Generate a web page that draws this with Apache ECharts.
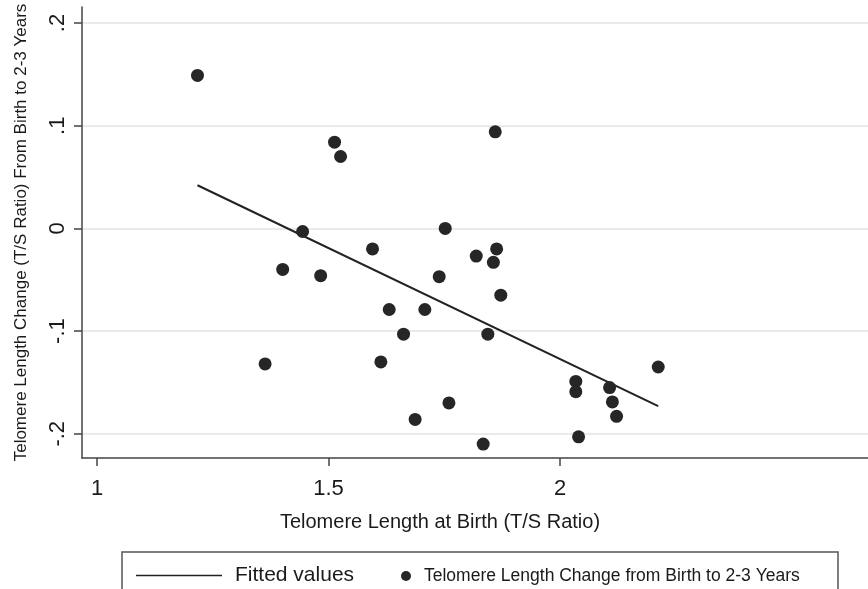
<!DOCTYPE html>
<html>
<head>
<meta charset="utf-8">
<script src="https://cdn.jsdelivr.net/npm/echarts@6/dist/echarts.min.js"></script>
<style>
  html, body { margin: 0; padding: 0; background: #fff; }
  #chart { width: 868px; height: 589px; }
</style>
</head>
<body>
<div id="chart"></div>
<script>
// Telomere length at birth (x) vs change from birth to 2-3 years (y)
const birthTS = [1.217, 1.513, 1.526, 1.860, 1.444, 1.401, 1.483, 1.595, 1.752, 1.819,
                 1.863, 1.856, 1.739, 1.872, 1.631, 1.708, 1.662, 1.844, 1.363, 1.613,
                 1.760, 1.687, 1.834, 2.034, 2.034, 2.107, 2.113, 2.122, 2.040, 2.212];
const changeTS = [0.149, 0.084, 0.070, 0.094, -0.003, -0.040, -0.046, -0.020, 0.000, -0.027,
                  -0.020, -0.033, -0.047, -0.065, -0.079, -0.079, -0.103, -0.103, -0.132, -0.130,
                  -0.170, -0.186, -0.210, -0.149, -0.159, -0.155, -0.169, -0.183, -0.203, -0.135];
// Fitted regression line endpoints
const fittedX = [1.217, 2.212];
const fittedY = [0.042, -0.173];
// Tick values
const xTicks = [1, 1.5, 2];
const yTicks = [-0.2, -0.1, 0, 0.1, 0.2];

const seriesNames = ['Fitted values', 'Telomere Length Change from Birth to 2-3 Years'];

const scatterData = birthTS.map((x, i) => [x, changeTS[i]]);
const fittedData = fittedX.map((x, i) => [x, fittedY[i]]);

function stataFmt(v) {
  if (Math.abs(v) < 1e-9) return '0';
  const s = String(Math.abs(Math.round(v * 1000) / 1000)).replace(/^0/, '');
  return (v < 0 ? '-' : '') + s;
}

const FONT = 'Liberation Sans, Arial, Helvetica, sans-serif';
const chart = echarts.init(document.getElementById('chart'), null, { renderer: 'canvas' });

chart.setOption({
  backgroundColor: '#ffffff',
  animation: false,
  textStyle: { fontFamily: FONT, color: '#1a1a1a' },
  grid: { left: 82, right: 0, top: 7, bottom: 131, containLabel: false },
  xAxis: {
    type: 'value',
    min: 0.9676,
    max: 2.665,
    name: 'Telomere Length at Birth (T/S Ratio)',
    nameLocation: 'middle',
    nameGap: 54,
    nameTextStyle: { fontSize: 20, color: '#1a1a1a', fontFamily: FONT, padding: [0, 70, 0, 0] },
    axisLine: { onZero: false, lineStyle: { color: '#444', width: 1.5 } },
    axisTick: { show: true, length: 8, customValues: xTicks, lineStyle: { color: '#444', width: 1.5 } },
    axisLabel: { customValues: xTicks, fontSize: 22, margin: 20, color: '#1a1a1a', fontFamily: FONT,
                 formatter: v => stataFmt(v) },
    splitLine: { show: false }
  },
  yAxis: {
    type: 'value',
    min: -0.2236,
    max: 0.2156,
    name: 'Telomere Length Change (T/S Ratio) From Birth to 2-3 Years',
    nameLocation: 'middle',
    nameGap: 52,
    nameTextStyle: { fontSize: 17, color: '#1a1a1a', fontFamily: FONT },
    axisLine: { show: true, onZero: false, lineStyle: { color: '#444', width: 1.5 } },
    axisTick: { show: true, length: 8, customValues: yTicks, lineStyle: { color: '#444', width: 1.5 } },
    axisLabel: { customValues: yTicks, rotate: 90, fontSize: 22, margin: 13, color: '#1a1a1a', fontFamily: FONT,
                 formatter: v => stataFmt(v) },
    splitLine: { show: true, lineStyle: { color: '#e3e3e3', width: 1.5 } }
  },
  legend: [
    {
      data: [seriesNames[0]],
      left: 131,
      top: 560,
      itemWidth: 86,
      itemHeight: 12,
      icon: 'path://M0,0 L100,0 L100,2 L0,2 Z',
      itemStyle: { color: '#222' },
      textStyle: { fontSize: 21, color: '#1a1a1a', fontFamily: FONT, padding: [0, 0, 0, 8] },
      selectedMode: false
    },
    {
      data: [{ name: seriesNames[1], icon: 'circle' }],
      left: 396,
      top: 562,
      itemWidth: 10,
      itemHeight: 10,
      textStyle: { fontSize: 17.5, color: '#1a1a1a', fontFamily: FONT, padding: [0, 0, 0, 8] },
      selectedMode: false
    }
  ],
  graphic: [
    {
      type: 'rect',
      shape: { x: 122, y: 552, width: 716, height: 60 },
      style: { fill: 'none', stroke: '#555', lineWidth: 1.5 },
      silent: true
    }
  ],
  series: [
    {
      name: seriesNames[0],
      type: 'line',
      data: fittedData,
      symbol: 'none',
      lineStyle: { color: '#222', width: 2 },
      itemStyle: { color: '#222' },
      z: 3
    },
    {
      name: seriesNames[1],
      type: 'scatter',
      data: scatterData,
      symbol: 'circle',
      symbolSize: 13,
      itemStyle: { color: '#262626', opacity: 1 },
      z: 4
    }
  ]
});
</script>
</body>
</html>
